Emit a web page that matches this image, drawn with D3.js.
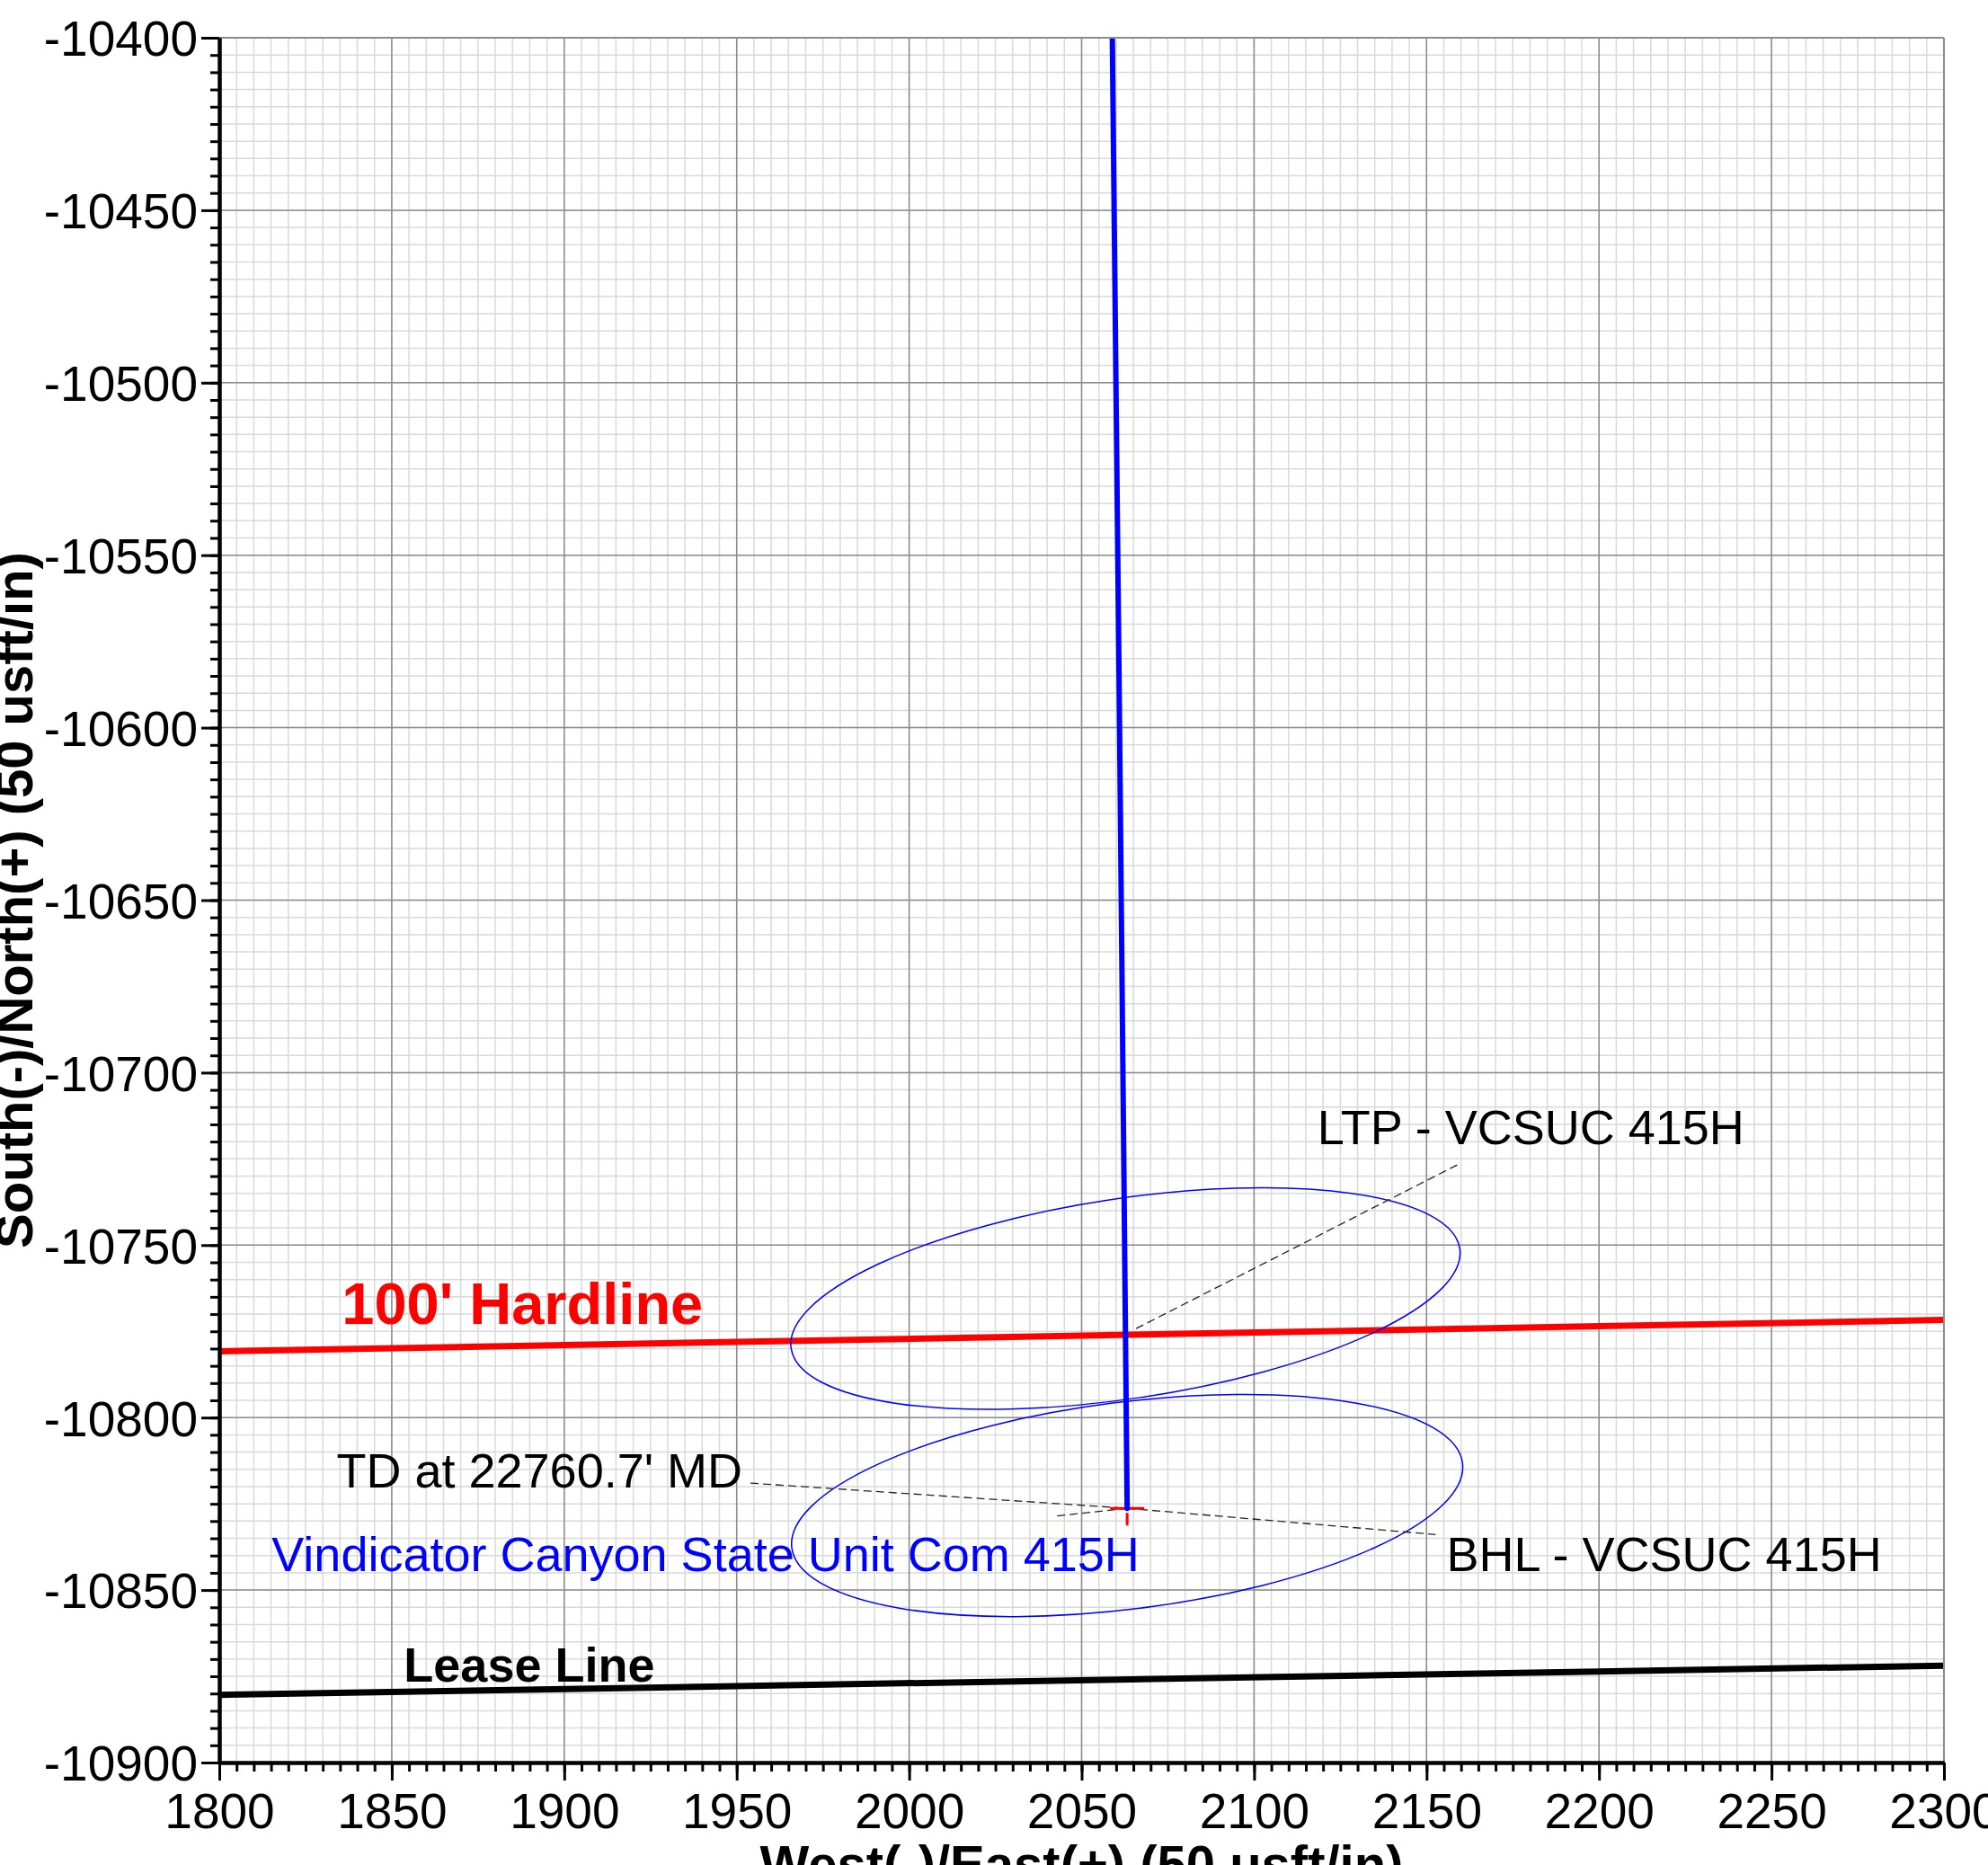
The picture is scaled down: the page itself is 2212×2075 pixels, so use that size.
<!DOCTYPE html>
<html lang="en">
<head>
  <meta charset="UTF-8">
  <title>VCSUC 415H plan view</title>
  <style>
  body {
    margin: 0;
    background: #fff;
  }
  svg {
    display: block;
    font-family: "Liberation Sans", Arial, Helvetica, sans-serif;
  }
  .grid-minor line { stroke: #d9d9d9; stroke-width: 1.5px; }
  .grid-major line { stroke: #8c8c8c; stroke-width: 1.5px; }
  .axis path { stroke: #000; stroke-width: 4px; }
  .axis line { stroke: #000; stroke-width: 3px; }
  .axis text { font-size: 55px; fill: #000; }
  .leader { stroke: #222; stroke-width: 1.3px; stroke-dasharray: 9,5; fill: none; }
  </style>
</head>
<body>
<svg width="2212" height="2075"></svg>
<script src="https://cdnjs.cloudflare.com/ajax/libs/d3/7.8.5/d3.min.js"></script>
<script>
// tick labels
var xTicks = [1800, 1850, 1900, 1950, 2000, 2050, 2100, 2150, 2200, 2250, 2300];
var yTicks = [-10900, -10850, -10800, -10750, -10700, -10650, -10600, -10550, -10500, -10450, -10400];

// well path (East, North)
var wellE = [2058.9, 2061.0, 2063.2];
var wellN = [-10400, -10600, -10826.3];

// 100' hardline and lease line
var hardE = [1800, 2300];
var hardN = [-10780.8, -10771.7];
var leaseE = [1800, 2300];
var leaseN = [-10880.4, -10871.9];

// error ellipses: centre, semi-axes (ft), rotation (deg, ccw from east)
var ellCenterE = [2062.7, 2063.2];
var ellCenterN = [-10765.5, -10825.5];
var ellMajor = [98.0, 98.0];
var ellMinor = [29.0, 30.0];
var ellAngle = [8.5, 7.2];

// bottom hole target
var bhlE = 2063.2, bhlN = -10826.3;

// leader lines
var leadFromE = [2065.8, 1954.0, 2042.9, 2063.2];
var leadFromN = [-10774.2, -10819.0, -10828.5, -10826.3];
var leadToE = [2159.0, 2063.2, 2063.2, 2152.6];
var leadToN = [-10726.7, -10826.3, -10826.3, -10833.9];

// labels
var labelText = ["LTP - VCSUC 415H", "TD at 22760.7' MD", "Vindicator Canyon State Unit Com 415H", "BHL - VCSUC 415H"];
var labelE = [2118.3, 1834.0, 1815.2, 2155.8];
var labelN = [-10720.8, -10820.3, -10844.4, -10844.6];
var labelColor = ["#000", "#000", "#0000ff", "#000"];

var svg = d3.select("svg"),
    pLeft = 244, pRight = 2163, pTop = 42, pBottom = 1961;

var x = d3.scaleLinear().domain([1800, 2300]).range([pLeft, pRight]);
var y = d3.scaleLinear().domain([-10900, -10400]).range([pBottom, pTop]);

svg.append("defs").append("clipPath").attr("id", "plot")
  .append("rect").attr("x", pLeft).attr("y", pTop)
  .attr("width", pRight - pLeft).attr("height", pBottom - pTop);

// minor grid
var gMinor = svg.append("g").attr("class", "grid-minor");
gMinor.selectAll(".v").data(x.ticks(100)).enter().append("line")
    .attr("x1", function(d) { return x(d); }).attr("x2", function(d) { return x(d); })
    .attr("y1", pTop).attr("y2", pBottom);
gMinor.selectAll(".h").data(y.ticks(100)).enter().append("line")
    .attr("y1", function(d) { return y(d); }).attr("y2", function(d) { return y(d); })
    .attr("x1", pLeft).attr("x2", pRight);

// major grid
var gMajor = svg.append("g").attr("class", "grid-major");
gMajor.selectAll(".v").data(xTicks).enter().append("line")
    .attr("x1", function(d) { return x(d); }).attr("x2", function(d) { return x(d); })
    .attr("y1", pTop).attr("y2", pBottom);
gMajor.selectAll(".h").data(yTicks).enter().append("line")
    .attr("y1", function(d) { return y(d); }).attr("y2", function(d) { return y(d); })
    .attr("x1", pLeft).attr("x2", pRight);

var plot = svg.append("g").attr("clip-path", "url(#plot)");
var line = d3.line()
    .x(function(d) { return x(d[0]); })
    .y(function(d) { return y(d[1]); });

// lease line + hardline
plot.append("path")
    .datum(d3.zip(leaseE, leaseN))
    .attr("d", line).attr("fill", "none").attr("stroke", "#000").attr("stroke-width", 7);
plot.append("path")
    .datum(d3.zip(hardE, hardN))
    .attr("d", line).attr("fill", "none").attr("stroke", "#ff0000").attr("stroke-width", 7);

// ellipses
plot.selectAll(".ell").data(d3.range(ellCenterE.length)).enter().append("ellipse")
    .attr("cx", function(i) { return x(ellCenterE[i]); })
    .attr("cy", function(i) { return y(ellCenterN[i]); })
    .attr("rx", function(i) { return x(ellCenterE[i] + ellMajor[i]) - x(ellCenterE[i]); })
    .attr("ry", function(i) { return y(ellCenterN[i]) - y(ellCenterN[i] + ellMinor[i]); })
    .attr("transform", function(i) {
      return "rotate(" + (-ellAngle[i]) + "," + x(ellCenterE[i]) + "," + y(ellCenterN[i]) + ")";
    })
    .attr("fill", "none").attr("stroke", "#0000ff").attr("stroke-width", 1.5);

// leaders
plot.selectAll(".leader").data(d3.range(leadFromE.length)).enter().append("line")
    .attr("class", "leader")
    .attr("x1", function(i) { return x(leadFromE[i]); })
    .attr("y1", function(i) { return y(leadFromN[i]); })
    .attr("x2", function(i) { return x(leadToE[i]); })
    .attr("y2", function(i) { return y(leadToN[i]); });

// target cross
var bx = x(bhlE), by = y(bhlN);
plot.append("line").attr("x1", bx - 19).attr("x2", bx + 19).attr("y1", by).attr("y2", by)
    .attr("stroke", "#ff0000").attr("stroke-width", 3);
plot.append("line").attr("x1", bx).attr("x2", bx).attr("y1", by - 19).attr("y2", by + 19)
    .attr("stroke", "#ff0000").attr("stroke-width", 3).attr("stroke-dasharray", "14,10,14");

// well path
plot.append("path")
    .datum(d3.zip(wellE, wellN))
    .attr("d", line).attr("fill", "none").attr("stroke", "#0000ff")
    .attr("stroke-width", 6).attr("stroke-linecap", "round");

// text labels
svg.selectAll(".lbl").data(d3.range(labelText.length)).enter().append("text")
    .attr("x", function(i) { return x(labelE[i]); })
    .attr("y", function(i) { return y(labelN[i]); })
    .attr("font-size", 54)
    .attr("fill", function(i) { return labelColor[i]; })
    .text(function(i) { return labelText[i]; });

svg.append("text")
    .attr("x", x(1835.5)).attr("y", y(-10772.9))
    .attr("font-size", 65).attr("font-weight", "bold").attr("fill", "#ff0000")
    .text("100' Hardline");
svg.append("text")
    .attr("x", x(1853.5)).attr("y", y(-10876.5))
    .attr("font-size", 54).attr("font-weight", "bold").attr("fill", "#000")
    .text("Lease Line");

// frame top / right
svg.append("line").attr("x1", pLeft).attr("x2", pRight).attr("y1", pTop).attr("y2", pTop)
    .attr("stroke", "#8c8c8c").attr("stroke-width", 2);
svg.append("line").attr("x1", pRight).attr("x2", pRight).attr("y1", pTop).attr("y2", pBottom)
    .attr("stroke", "#8c8c8c").attr("stroke-width", 2);

// minor ticks
svg.append("g").attr("class", "axis")
    .attr("transform", "translate(0," + pBottom + ")")
    .call(d3.axisBottom(x).tickValues(x.ticks(100)).tickSize(10).tickSizeOuter(0).tickFormat(""));
svg.append("g").attr("class", "axis")
    .attr("transform", "translate(" + pLeft + ",0)")
    .call(d3.axisLeft(y).tickValues(y.ticks(100)).tickSize(10).tickSizeOuter(0).tickFormat(""));

// major ticks + labels
var xAxis = svg.append("g").attr("class", "axis")
    .attr("transform", "translate(0," + pBottom + ")")
    .call(d3.axisBottom(x).tickValues(xTicks).tickSize(20).tickSizeOuter(0).tickPadding(14)
      .tickFormat(function(d) { return String(d); }));
var yAxis = svg.append("g").attr("class", "axis")
    .attr("transform", "translate(" + pLeft + ",0)")
    .call(d3.axisLeft(y).tickValues(yTicks).tickSize(20).tickSizeOuter(0).tickPadding(4)
      .tickFormat(function(d) { return String(d); }));
svg.selectAll(".axis text").attr("font-family", null).attr("font-size", null);
yAxis.selectAll("text").attr("dy", "0.36em");

// axis titles
svg.append("text")
    .attr("x", (pLeft + pRight) / 2).attr("y", 2094)
    .attr("text-anchor", "middle").attr("font-size", 58).attr("font-weight", "bold")
    .text("West(-)/East(+) (50 usft/in)");
svg.append("text")
    .attr("transform", "translate(36," + (pTop + pBottom) / 2 + ") rotate(-90)")
    .attr("text-anchor", "middle").attr("font-size", 58).attr("font-weight", "bold")
    .text("South(-)/North(+) (50 usft/in)");
</script>
</body>
</html>
